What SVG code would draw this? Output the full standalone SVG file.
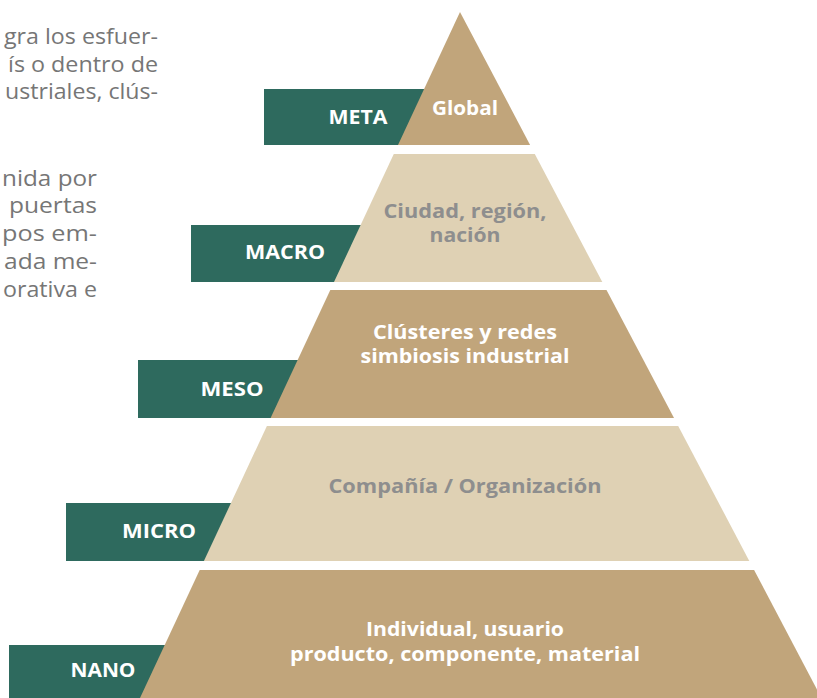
<svg xmlns="http://www.w3.org/2000/svg" width="817" height="698" viewBox="0 0 817 698">
  <style>
    .tab { fill: #2e6a5e; }
    .dark { fill: #c1a57b; }
    .light { fill: #dfd1b4; }
    .lbl { font-family: "Open Sans", "Liberation Sans", sans-serif; font-weight: 700; font-size: 19px; fill: #ffffff; text-anchor: middle; }
    .tw { font-family: "Open Sans", "Liberation Sans", sans-serif; font-weight: 700; font-size: 19px; fill: #ffffff; text-anchor: middle; }
    .tg { font-family: "Open Sans", "Liberation Sans", sans-serif; font-weight: 700; font-size: 19px; fill: #8e8e8e; text-anchor: middle; }
    .para { font-family: "Open Sans", "Liberation Sans", sans-serif; font-weight: 400; font-size: 21px; fill: #767676; }
  </style>
  <rect width="817" height="698" fill="#ffffff"/>

  <g id="paragraph-text">
    <text class="para" x="4" y="44" textLength="154" lengthAdjust="spacingAndGlyphs">gra los esfuer-</text>
    <text class="para" x="8" y="72" textLength="150" lengthAdjust="spacingAndGlyphs">ís o dentro de</text>
    <text class="para" x="5" y="99" textLength="153" lengthAdjust="spacingAndGlyphs">ustriales, clús-</text>
    <text class="para" x="2" y="186" textLength="95" lengthAdjust="spacingAndGlyphs">nida por</text>
    <text class="para" x="9" y="213" textLength="88" lengthAdjust="spacingAndGlyphs">puertas</text>
    <text class="para" x="2" y="241" textLength="95" lengthAdjust="spacingAndGlyphs">pos em-</text>
    <text class="para" x="4" y="269" textLength="93" lengthAdjust="spacingAndGlyphs">ada me-</text>
    <text class="para" x="3" y="297" textLength="94" lengthAdjust="spacingAndGlyphs">orativa e</text>
  </g>

  <g id="connectors"></g>

  <g id="level-meta">
    <rect class="tab" x="264" y="89" width="180" height="56"/>
    <polygon class="dark" points="460,12 530.1,145 398,145"/>
    <text class="lbl" x="358" y="124" textLength="59" lengthAdjust="spacingAndGlyphs">META</text>
    <text class="tw" x="465" y="115" textLength="66" lengthAdjust="spacingAndGlyphs">Global</text>
  </g>

  <g id="level-macro">
    <rect class="tab" x="191" y="225" width="180" height="57"/>
    <polygon class="light" points="393.8,154 534.8,154 602.3,282 334,282"/>
    <text class="lbl" x="285" y="259" textLength="80" lengthAdjust="spacingAndGlyphs">MACRO</text>
    <text class="tg" x="465" y="218" textLength="163" lengthAdjust="spacingAndGlyphs">Ciudad, región,</text>
    <text class="tg" x="465" y="242" textLength="71" lengthAdjust="spacingAndGlyphs">nación</text>
  </g>

  <g id="level-meso">
    <rect class="tab" x="138" y="360" width="180" height="58"/>
    <polygon class="dark" points="330.3,290 606.5,290 674,418 270.6,418"/>
    <text class="lbl" x="232" y="396" textLength="63" lengthAdjust="spacingAndGlyphs">MESO</text>
    <text class="tw" x="465" y="339" textLength="184" lengthAdjust="spacingAndGlyphs">Clústeres y redes</text>
    <text class="tw" x="465" y="363" textLength="209" lengthAdjust="spacingAndGlyphs">simbiosis industrial</text>
  </g>

  <g id="level-micro">
    <rect class="tab" x="66" y="503" width="180" height="58"/>
    <polygon class="light" points="266.9,426 678.2,426 749.3,561 203.9,561"/>
    <text class="lbl" x="159" y="538" textLength="74" lengthAdjust="spacingAndGlyphs">MICRO</text>
    <text class="tg" x="465" y="493" textLength="273" lengthAdjust="spacingAndGlyphs">Compañía / Organización</text>
  </g>

  <g id="level-nano">
    <rect class="tab" x="9" y="645" width="180" height="53"/>
    <polygon class="dark" points="199.7,570 754.1,570 821.5,698 140,698"/>
    <text class="lbl" x="103" y="677" textLength="65" lengthAdjust="spacingAndGlyphs">NANO</text>
    <text class="tw" x="465" y="636" textLength="198" lengthAdjust="spacingAndGlyphs">Individual, usuario</text>
    <text class="tw" x="465" y="661" textLength="350" lengthAdjust="spacingAndGlyphs">producto, componente, material</text>
  </g>
</svg>
